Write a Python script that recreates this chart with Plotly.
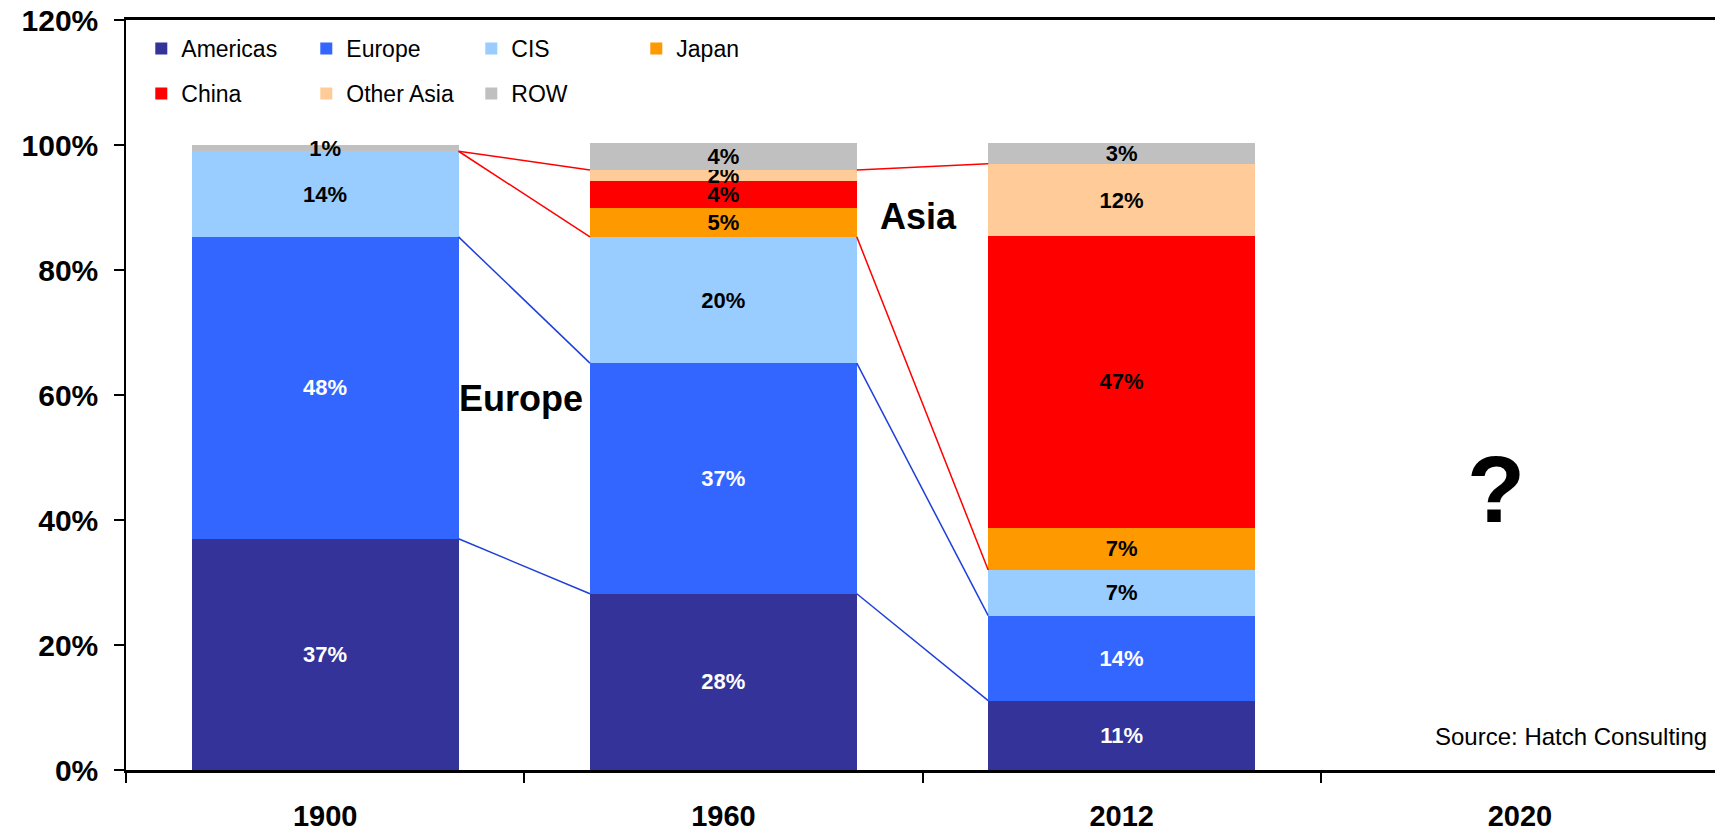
import plotly.graph_objects as go

years = ["1900", "1960", "2012", "2020"]
regions = ["Americas", "Europe", "CIS", "Japan", "China", "Other Asia", "ROW"]
americas = [37.0, 28.2, 11.1, None]
europe = [48.3, 36.9, 13.6, None]
cis = [13.7, 20.2, 7.3, None]
japan = [0.0, 4.6, 6.8, None]
china = [0.0, 4.3, 46.6, None]
other_asia = [0.0, 1.8, 11.6, None]
row = [1.0, 4.3, 3.3, None]
y_ticks = [0, 20, 40, 60, 80, 100, 120]
y_tick_labels = ["0%", "20%", "40%", "60%", "80%", "100%", "120%"]

series = [americas, europe, cis, japan, china, other_asia, row]
colors = ["#333399", "#3366FF", "#99CCFF", "#FF9900", "#FF0000", "#FFCC99", "#C0C0C0"]
text_colors = ["white", "white", "black", "black", "black", "black", "black"]
legend_ids = ["legend", "legend", "legend", "legend", "legend2", "legend2", "legend2"]

FONT = "Arial, 'Liberation Sans', sans-serif"
BARGAP = 0.33
xpos = list(range(len(years)))

fig = go.Figure()
for name, vals, col, tcol, lg in zip(regions, series, colors, text_colors, legend_ids):
    txt = [f"{round(v)}%" if (v is not None and v > 0) else "" for v in vals]
    fig.add_trace(go.Bar(
        x=xpos, y=vals, name=name, marker=dict(color=col, line=dict(width=0)),
        text=txt, textposition="inside", insidetextanchor="middle",
        textfont=dict(family=FONT, size=22, color=tcol, weight="bold"), constraintext="none",
        legend=lg, hoverinfo="skip",
    ))

# connector lines between stacked boundaries
hw = (1 - BARGAP) / 2
def cum(upto):
    out = []
    for i in range(3):
        out.append(sum(series[k][i] for k in range(upto + 1)))
    return out

boundaries = [(0, "#1F3FD9"), (1, "#1F3FD9"), (2, "#FF0000"), (5, "#FF0000")]
for idx, col in boundaries:
    c = cum(idx)
    xs, ys = [], []
    for i in range(2):
        xs += [xpos[i] + hw, xpos[i + 1] - hw, None]
        ys += [c[i], c[i + 1], None]
    fig.add_trace(go.Scatter(x=xs, y=ys, mode="lines", line=dict(color=col, width=1.5),
                             showlegend=False, hoverinfo="skip"))

# the page body adds an 8px margin, so the figure is sized to fit the window
fig.update_layout(
    width=1715, height=825,
    margin=dict(l=118, r=4, t=12, b=63, autoexpand=False),
    barmode="stack", bargap=BARGAP,
    plot_bgcolor="white", paper_bgcolor="white",
    font=dict(family=FONT, color="black"),
    uniformtext=dict(minsize=22, mode="show"),
    legend=dict(orientation="h", x=0.0096, y=0.962, xanchor="left", yanchor="middle",
                entrywidth=120, font=dict(size=23, family=FONT), bgcolor="rgba(0,0,0,0)",
                itemwidth=30, traceorder="normal"),
    legend2=dict(orientation="h", x=0.0096, y=0.902, xanchor="left", yanchor="middle",
                 entrywidth=120, font=dict(size=23, family=FONT), bgcolor="rgba(0,0,0,0)",
                 itemwidth=30, traceorder="normal"),
    xaxis=dict(range=[-0.5, len(years) - 0.5], tickvals=xpos, ticktext=years,
               ticks="", showgrid=False, zeroline=False, automargin=False,
               showline=True, linecolor="black", linewidth=2.5, mirror=True,
               tickfont=dict(size=29, family=FONT, weight="bold"), ticklabelstandoff=18,
               ticklabeloverflow="allow",
               minor=dict(tickvals=[i - 0.5 for i in range(len(years) + 1)], ticks="outside",
                          ticklen=10, tickwidth=1.5, tickcolor="black", showgrid=False)),
    yaxis=dict(range=[0, 120], tickvals=y_ticks, ticktext=y_tick_labels,
               ticks="outside", ticklen=10, tickwidth=1.5, tickcolor="black",
               showgrid=False, zeroline=False, automargin=False,
               showline=True, linecolor="black", linewidth=1.5, mirror=True,
               tickfont=dict(size=30, family=FONT, weight="bold"), ticklabelstandoff=10,
               ticklabeloverflow="allow"),
)

fig.add_annotation(x=0.492, y=59.5, text="<b>Europe</b>", showarrow=False,
                   font=dict(size=36, family=FONT, color="black"))
fig.add_annotation(x=1.489, y=88.5, text="<b>Asia</b>", showarrow=False,
                   font=dict(size=36, family=FONT, color="black"))
fig.add_annotation(x=2.94, y=45, text="<b>?</b>", showarrow=False,
                   font=dict(size=95, family=FONT, color="black"))
fig.add_annotation(xref="paper", yref="paper", x=0.9937, y=0.045, xanchor="right",
                   yanchor="middle", text="Source: Hatch Consulting", showarrow=False,
                   font=dict(size=24, family=FONT, color="black"))

fig.write_html("out.html")
